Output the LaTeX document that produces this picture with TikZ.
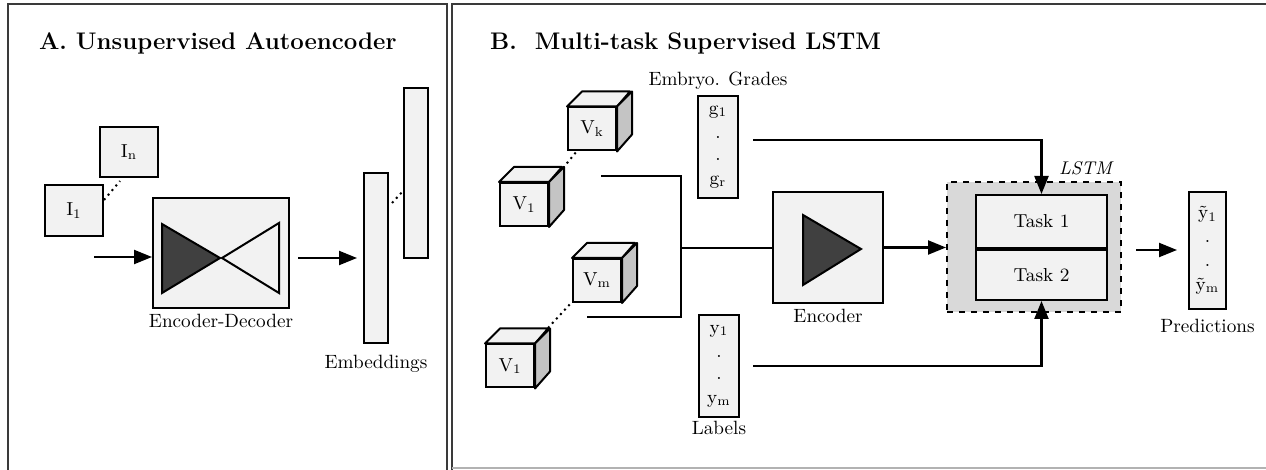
\documentclass[tikz,border=0pt]{standalone}
\usepackage{tikz}
\usetikzlibrary{arrows.meta,positioning,calc}

\definecolor{boxfill}{HTML}{F2F2F2}
\definecolor{sidefill}{HTML}{C4C4C4}
\definecolor{darkfill}{HTML}{404040}
\definecolor{lstmfill}{HTML}{D9D9D9}
\definecolor{framecol}{HTML}{3A3A3A}

\tikzset{
  lbl/.style={font=\fontsize{9.6}{11}\selectfont},
  ttl/.style={font=\fontsize{12}{14}\selectfont\bfseries, anchor=base west},
  blk/.style={draw, line width=1pt, fill=boxfill, inner sep=0pt, font=\fontsize{9.4}{11}\selectfont},
  vecbox/.style={blk, align=center, minimum width=20pt, minimum height=51pt},
  arr/.style={line width=1.1pt, -{Triangle[length=9pt,width=7pt]}},
  conn/.style={line width=1pt},
  dots/.style={line width=1pt, dotted},
}

\begin{document}
\begin{tikzpicture}[x=0.5pt,y=-0.5pt]
  \useasboundingbox (0,0) rectangle (1266,470);
  \begin{scope}
    \clip (0,0) rectangle (1266,470);
    % panel frames
    \draw[framecol, line width=1.2pt] (8,4) rectangle (447,490);
    \draw[framecol, line width=1pt] (452,490) -- (452,4) -- (1290,4);
    \draw[gray!60, line width=0.6pt] (452,468) -- (1290,468);
  \end{scope}

  % ---------- A. Unsupervised Autoencoder ----------
  \node[ttl] (titleA) at (32,50) {A. Unsupervised Autoencoder};

  \node[blk, minimum width=29pt, minimum height=25pt] (In) at (129,152) {I\textsubscript{n}};
  \node[blk, minimum width=29pt, minimum height=25.5pt] (I1) at (74,210.5) {I\textsubscript{1}};
  \coordinate (dA1) at (104,200);
  \coordinate (dA2) at (120,181);
  \draw[dots] (dA1) -- (dA2);

  \node[blk, minimum width=68pt, minimum height=55pt] (ed) at (221,253) {};
  \filldraw[fill=darkfill, line width=1pt] (162,224) -- (162,293) -- (220,258) -- cycle;
  \filldraw[fill=boxfill, line width=1pt] (222,258) -- (279,223) -- (279,293) -- cycle;
  \node[lbl, below=-1pt of ed] (edlab) {Encoder-Decoder};

  \coordinate (inA) at (94,257);
  \draw[arr] (inA) -- (inA -| ed.west);

  \node[blk, minimum width=12pt, minimum height=85pt] (emb1) at (376,258) {};
  \node[blk, minimum width=12pt, minimum height=85pt] (emb2) at (416,173) {};
  \coordinate (dE1) at (392,203);
  \coordinate (dE2) at (404,190);
  \draw[dots] (dE1) -- (dE2);
  \node[lbl, below=2pt of emb1] (emblab) {Embeddings};

  \coordinate (edout) at (298,258);
  \coordinate (embin) at (357,258);
  \draw[arr] (edout) -- (embin);

  % ---------- B. Multi-task Supervised LSTM ----------
  \node[ttl] (titleB) at (483,50) {B.\ \ Multi-task Supervised LSTM};

  % video cubes: name / x / y / text
  \foreach \name/\x/\y/\txt in {Vk/592/129/V\textsubscript{k}, Va/524/204.5/V\textsubscript{1},
                               Vm/597/280.5/V\textsubscript{m}, Vb/510/366/V\textsubscript{1}} {
    \node[blk, minimum width=24pt, minimum height=21.5pt] (\name) at (\x,\y) {\txt};
    \filldraw[fill=boxfill, line width=1pt, line join=round]
      (\name.north west) -- ++(15,-15) -- ++(48,0) -- (\name.north east) -- cycle;
    \filldraw[fill=sidefill, line width=1pt, line join=round]
      (\name.north east) -- ++(15,-15) -- ++(0,43) -- (\name.south east) -- cycle;
  }
  \coordinate (dV1) at (563,168);
  \coordinate (dV2) at (577,151);
  \draw[dots] (dV1) -- (dV2);
  \coordinate (dV3) at (548,328);
  \coordinate (dV4) at (571,303);
  \draw[dots] (dV3) -- (dV4);

  \node[vecbox] (gbox) at (718,147) {g\textsubscript{1}\\[1pt].\\[0pt].\\[1pt]g\textsubscript{r}};
  \node[lbl, above=-1pt of gbox] (glab) {Embryo. Grades};
  \node[vecbox] (ybox) at (719,366) {y\textsubscript{1}\\[1pt].\\[0pt].\\[1pt]y\textsubscript{m}};
  \node[lbl, below=-2pt of ybox] (ylab) {Labels};

  \node[blk, minimum width=55pt, minimum height=55.5pt] (enc) at (828,247.5) {};
  \filldraw[fill=darkfill, line width=1pt] (803,215) -- (803,285) -- (861,249) -- cycle;
  \node[lbl, below=-1pt of enc] (enclab) {Encoder};

  \coordinate (upA) at (601,176);
  \coordinate (lowA) at (587,317);
  \coordinate (join) at (681,248);
  \draw[conn] (upA) -| (join) |- (lowA);
  \draw[conn] (join) -- (join -| enc.west);

  \node[draw, dashed, line width=1pt, fill=lstmfill, minimum width=87pt, minimum height=65pt] (lstm) at (1034,247) {};
  \node[lbl, font=\fontsize{9.2}{11}\selectfont\itshape, anchor=south east] (lstmlab) at ($(lstm.north east)+(-3,1)$) {LSTM};
  \node[blk, minimum width=65.5pt, minimum height=26.5pt] (task1) at (1041.5,221.5) {Task 1};
  \node[blk, minimum width=65.5pt, minimum height=25pt, anchor=north] (task2) at (task1.south) {Task 2};

  \draw[arr] (enc.east) -- (enc.east -| lstm.west);

  \coordinate (gout) at (753,140);
  \draw[arr] (gout) -| (task1.north);
  \coordinate (yout) at (753,366);
  \draw[arr] (yout) -| (task2.south);

  \node[blk, align=center, minimum width=18.5pt, minimum height=58.5pt] (pred) at (1207.5,250.5)
    {\~{y}\textsubscript{1}\\[1pt].\\[1pt].\\[1pt]\~{y}\textsubscript{m}};
  \node[lbl, below=1pt of pred] (predlab) {Predictions};

  \coordinate (lstmout) at (1136,250);
  \coordinate (predin) at (1177,250);
  \draw[arr] (lstmout) -- (predin);
\end{tikzpicture}
\end{document}
